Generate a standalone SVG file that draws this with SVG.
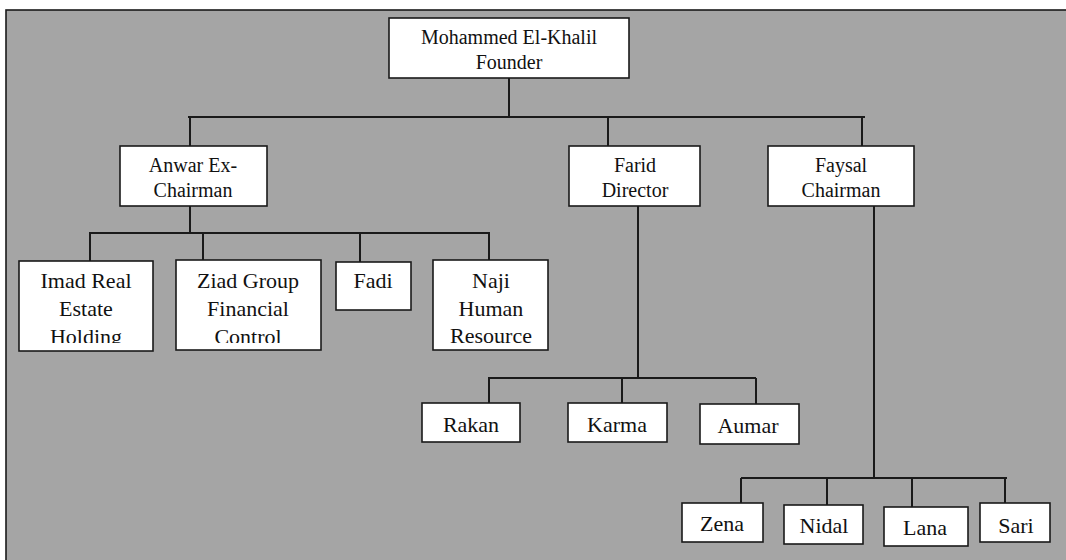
<svg xmlns="http://www.w3.org/2000/svg" width="1066" height="560" viewBox="0 0 1066 560">
<style>
.box{fill:#fff;stroke:#1a1a1a;stroke-width:1.6}
.ln{stroke:#1a1a1a;stroke-width:2;fill:none}
.t{font-size:20px;fill:#111;text-anchor:middle}
.t2{font-size:22px;fill:#111;text-anchor:middle}
</style>
<defs>
<clipPath id="cImad"><rect x="19" y="261" width="134" height="82"/></clipPath>
<clipPath id="cZiad"><rect x="176" y="260" width="145" height="83"/></clipPath>
</defs>
<rect x="0" y="0" width="1066" height="560" fill="#fff"/>
<rect x="6" y="10" width="1062" height="552" fill="#a5a5a5" stroke="#1a1a1a" stroke-width="1.6"/>
<g id="connectors">
<path class="ln" d="M509 78V117M188 117H865M190 117V146M608 117V146M862 117V146"/>
<path class="ln" d="M190 206V233M89 233H490M90 233V261M203 233V260M360 233V262M489 233V260"/>
<path class="ln" d="M638 206V378M488 378H756M489 378V403M622 378V403M756 378V404"/>
<path class="ln" d="M874 206V478M741 478H1007M741 478V503M827 478V505M912 478V507M1005 478V503"/>
</g>
<g font-family="Liberation Serif, serif">
<g id="founder"><rect class="box" x="389" y="18" width="240" height="60"/><text class="t" x="509" y="44">Mohammed El-Khalil</text><text class="t" x="509" y="69">Founder</text></g>
<g id="anwar"><rect class="box" x="120" y="146" width="147" height="60"/><text class="t" x="193" y="172">Anwar Ex-</text><text class="t" x="193" y="197">Chairman</text></g>
<g id="farid"><rect class="box" x="569" y="146" width="131" height="60"/><text class="t" x="635" y="172">Farid</text><text class="t" x="635" y="197">Director</text></g>
<g id="faysal"><rect class="box" x="768" y="146" width="146" height="60"/><text class="t" x="841" y="172">Faysal</text><text class="t" x="841" y="197">Chairman</text></g>
<g id="imad"><rect class="box" x="19" y="261" width="134" height="90"/><g clip-path="url(#cImad)"><text class="t2" x="86" y="288">Imad Real</text><text class="t2" x="86" y="316">Estate</text><text class="t2" x="86" y="344">Holding</text></g></g>
<g id="ziad"><rect class="box" x="176" y="260" width="145" height="90"/><g clip-path="url(#cZiad)"><text class="t2" x="248" y="288">Ziad Group</text><text class="t2" x="248" y="316">Financial</text><text class="t2" x="248" y="344">Control</text></g></g>
<g id="fadi"><rect class="box" x="336" y="262" width="75" height="48"/><text class="t2" x="373" y="288">Fadi</text></g>
<g id="naji"><rect class="box" x="433" y="260" width="115" height="90"/><text class="t2" x="491" y="288">Naji</text><text class="t2" x="491" y="316">Human</text><text class="t2" x="491" y="343">Resource</text></g>
<g id="rakan"><rect class="box" x="422" y="403" width="98" height="39"/><text class="t2" x="471" y="432">Rakan</text></g>
<g id="karma"><rect class="box" x="568" y="403" width="99" height="39"/><text class="t2" x="617" y="432">Karma</text></g>
<g id="aumar"><rect class="box" x="700" y="404" width="99" height="40"/><text class="t2" x="748" y="433">Aumar</text></g>
<g id="zena"><rect class="box" x="682" y="503" width="81" height="39"/><text class="t2" x="722" y="531">Zena</text></g>
<g id="nidal"><rect class="box" x="784" y="505" width="79" height="39"/><text class="t2" x="824" y="533">Nidal</text></g>
<g id="lana"><rect class="box" x="884" y="507" width="84" height="39"/><text class="t2" x="925" y="535">Lana</text></g>
<g id="sari"><rect class="box" x="980" y="503" width="70" height="39"/><text class="t2" x="1016" y="533">Sari</text></g>
</g>
</svg>
